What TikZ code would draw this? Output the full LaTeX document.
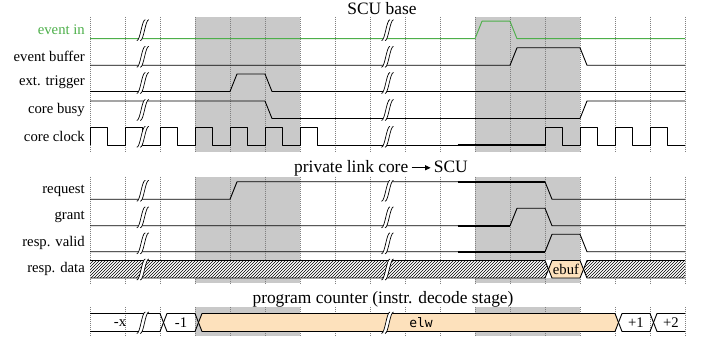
\documentclass[tikz,border=0pt]{standalone}
\usepackage{fontspec}
\setmainfont{Liberation Serif}
\newfontfamily\elwfont{DejaVu Sans Mono}
\usetikzlibrary{patterns,arrows.meta}
\definecolor{shadegray}{RGB}{201,201,201}
\definecolor{evgreen}{RGB}{77,175,74}
\definecolor{busfill}{RGB}{253,225,188}
\newcommand{\brkmark}[3]{% x, top, bottom
  \fill[white] ({#1-6},{#3+2}) .. controls ({#1-2.5},{#3+2}) and ({#1-1},{#2-1.5}) .. ({#1+2.5},{#2-1.5})
     -- ({#1+6},{#2-1.5}) .. controls ({#1+2.5},{#2-1.5}) and ({#1+1},{#3+2}) .. ({#1-2.5},{#3+2}) -- cycle;
  \draw[brk] ({#1-6},{#3+2}) .. controls ({#1-2.5},{#3+2}) and ({#1-1},{#2-1.5}) .. ({#1+2.5},{#2-1.5});
  \draw[brk] ({#1-2.5},{#3+2}) .. controls ({#1+1},{#3+2}) and ({#1+2.5},{#2-1.5}) .. ({#1+6},{#2-1.5});
}
\begin{document}
\begin{tikzpicture}[x=1pt,y=-1pt,
  sig/.style={line width=0.9pt, line join=round},
  thk/.style={line width=1.7pt},
  gridl/.style={gray, line width=0.5pt, dash pattern=on 0.8pt off 1.2pt},
  lbl/.style={anchor=east, font=\rmfamily\fontsize{14.7}{16}\selectfont, inner sep=0pt},
  ttl/.style={font=\rmfamily\fontsize{17.4}{20}\selectfont, inner sep=0pt},
  bustxt/.style={font=\rmfamily\fontsize{14.7}{16}\selectfont, inner sep=0pt},
  brk/.style={line width=0.7pt}]
\useasboundingbox (0,0) rectangle (702,339);
% shading and grid
\foreach \ya/\yb in {17/152, 176.7/283.5, 307.5/336} {
  \fill[shadegray] (195,\ya) rectangle (300,\yb);
  \fill[shadegray] (475,\ya) rectangle (580,\yb);
  \foreach \x in {90,125,...,685} \draw[gridl] (\x,\ya) -- (\x,\yb);
}
% titles
\node[ttl] (t1) at (382,9) {SCU base};
\node[ttl] (t2) at (381,168) {private link core\,\tikz[baseline=-0.55ex]\draw[-{Triangle[length=5.5pt,width=5pt]},line width=0.9pt] (0pt,0pt)--(19pt,0pt);\,SCU};
\node[ttl] (t3) at (383,299) {program counter (instr. decode stage)};
% labels
\node[lbl, text=evgreen] (l1) at (85,30) {event in};
\node[lbl] (l2) at (85,56.5) {event buffer};
\node[lbl] (l3) at (85,82.7) {ext. trigger};
\node[lbl] (l4) at (85,109.7) {core busy};
\node[lbl] (l5) at (85,136.5) {core clock};
\node[lbl] (l6) at (85,190.5) {request};
\node[lbl] (l7) at (85,217) {grant};
\node[lbl] (l8) at (85,243) {resp. valid};
\node[lbl] (l9) at (85,269.2) {resp. data};
% event in
\draw[sig, evgreen] (90,38.7) -- (475,38.7) -- (482,21.2) -- (510,21.2) -- (517,38.7) -- (685,38.7);
% event buffer
\draw[sig] (90,65.3) -- (510,65.3) -- (517,47.8) -- (580,47.8) -- (587,65.3) -- (685,65.3);
% ext trigger
\draw[sig] (90,91.5) -- (230,91.5) -- (237,74) -- (265,74) -- (272,91.5) -- (685,91.5);
% core busy
\draw[sig] (90,101) -- (265,101) -- (272,118.5) -- (580,118.5) -- (587,101) -- (685,101);
\draw[thk] (457.5,118.5) -- (510,118.5);
% core clock
\draw[sig] (90,145.3) \foreach \x in {90,125,...,300} { -- (\x,127.8) -- ++(17.5,0) -- ++(0,17.5) -- ++(17.5,0) }
  -- (545,145.3) \foreach \x in {545,580,615,650} { -- (\x,127.8) -- ++(17.5,0) -- ++(0,17.5) -- ++(17.5,0) };
\draw[thk] (457.5,145.3) -- (545,145.3);
% request
\draw[sig] (90,199.3) -- (230,199.3) -- (237,181.8) -- (545,181.8) -- (552,199.3) -- (685,199.3);
\draw[thk] (457.5,181.8) -- (545,181.8);
% grant
\draw[sig] (90,225.8) -- (510,225.8) -- (517,208.3) -- (545,208.3) -- (552,225.8) -- (685,225.8);
\draw[thk] (457.5,225.8) -- (510,225.8);
% resp valid
\draw[sig] (90,251.8) -- (545,251.8) -- (552,234.3) -- (580,234.3) -- (587,251.8) -- (685,251.8);
\draw[thk] (457.5,251.8) -- (545,251.8);
% resp data
\fill[white] (90,260.5) rectangle (685,278);
\fill[pattern=north east lines] (90,260.5) -- (545,260.5) -- (548.5,269.25) -- (545,278) -- (90,278) -- cycle;
\fill[pattern=north east lines] (583.5,269.25) -- (587,260.5) -- (685,260.5) -- (685,278) -- (587,278) -- cycle;
\fill[busfill] (548.5,269.25) -- (552,260.5) -- (580,260.5) -- (583.5,269.25) -- (580,278) -- (552,278) -- cycle;
\draw[sig] (90,260.5) -- (545,260.5) -- (552,278) -- (580,278) -- (587,260.5) -- (685,260.5);
\draw[sig] (90,278) -- (545,278) -- (552,260.5) -- (580,260.5) -- (587,278) -- (685,278);
\node[bustxt] (ebuf) at (566,269.5) {ebuf};
% program counter
\fill[busfill] (198.5,322.5) -- (202,313.5) -- (615,313.5) -- (618.5,322.5) -- (615,331.5) -- (202,331.5) -- cycle;
\draw[sig] (90,313.5) -- (160,313.5) -- (167,331.5) -- (195,331.5) -- (202,313.5) -- (615,313.5) -- (622,331.5) -- (650,331.5) -- (657,313.5) -- (685,313.5);
\draw[sig] (90,331.5) -- (160,331.5) -- (167,313.5) -- (195,313.5) -- (202,331.5) -- (615,331.5) -- (622,313.5) -- (650,313.5) -- (657,331.5) -- (685,331.5);
\node[bustxt] (pcx) at (120,322.8) {-x};
\node[bustxt] (pcm1) at (181,322.8) {-1};
\node[font=\elwfont\fontsize{13}{15}\selectfont, inner sep=0pt] (pcelw) at (421,322.5) {elw};
\node[bustxt] (pcp1) at (636,322.8) {+1};
\node[bustxt] (pcp2) at (671,322.8) {+2};
% breaks
\foreach \bx in {142.8,387.5} {
  \brkmark{\bx}{21.2}{38.7}
  \brkmark{\bx}{47.8}{65.3}
  \brkmark{\bx}{74}{91.5}
  \brkmark{\bx}{101}{118.5}
  \brkmark{\bx}{127.8}{145.3}
  \brkmark{\bx}{181.8}{199.3}
  \brkmark{\bx}{208.3}{225.8}
  \brkmark{\bx}{234.3}{251.8}
  \brkmark{\bx}{260.5}{278}
  \brkmark{\bx}{313.5}{331.5}
}
\end{tikzpicture}
\end{document}
